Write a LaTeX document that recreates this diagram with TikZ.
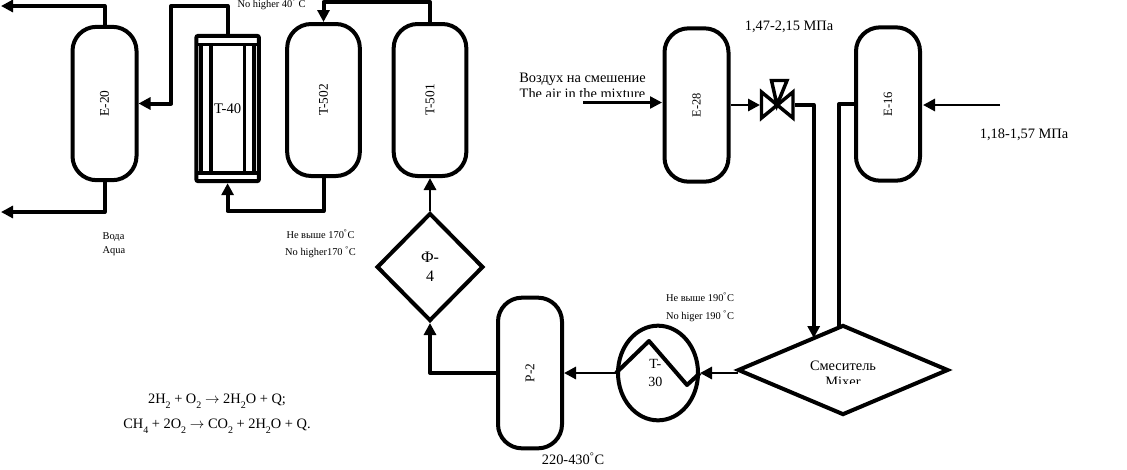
\documentclass[tikz,border=0pt]{standalone}
\usepackage{fontspec}
\usepackage{xcolor}
\usetikzlibrary{arrows.meta,shapes.geometric}
\setmainfont{Liberation Serif}
\newcommand{\degs}{\textsuperscript{°}}
\newcommand{\subs}[1]{\raisebox{-4pt}{\fontsize{7.5}{8}\selectfont #1}}

\tikzset{
  vessel/.style={draw,line width=3pt,rounded corners=18pt,minimum width=48pt,minimum height=115pt,inner sep=0pt,text depth=0pt,font=\fontsize{10}{11}\selectfont},
  bigtext/.style={inner sep=0pt,font=\fontsize{10.8}{12}\selectfont},
  smalltext/.style={inner sep=0pt,font=\fontsize{7.8}{9}\selectfont},
  pipe/.style={line width=3pt,line join=round},
  feed/.style={line width=2.2pt,line join=round},
  tip/.style={-{Triangle[length=9pt,width=9pt]}},
}

\begin{document}
\begin{tikzpicture}[x=0.75pt,y=0.75pt,yscale=-1,xscale=1]
\useasboundingbox (0,0) rectangle (1127,469);

%Shape: Vessels
\node[vessel] (E20) at (104.5,103.5) {\rotatebox{90}{E-20}};
\node[vessel,minimum width=54.5pt,minimum height=114pt] (T502) at (323.5,100) {\rotatebox{90}{T-502}};
\node[vessel,minimum width=54.5pt,minimum height=114pt] (T501) at (430,100) {\rotatebox{90}{T-501}};
\node[vessel,font=\fontsize{9.3}{11}\selectfont] (E28) at (696.5,105) {\rotatebox{90}{E-28}};
\node[vessel,font=\fontsize{9.5}{11}\selectfont] (E16) at (888,104) {\rotatebox{90}{E-16}};
\node[vessel,minimum height=113pt] (P2) at (530,373) {\rotatebox{90}{P-2}};

%Shape: Heat exchanger
\node[draw,line width=3pt,rounded corners=1.5pt,minimum width=47pt,minimum height=109pt,inner sep=0pt,font=\fontsize{11}{12}\selectfont] (T40) at (227.6,108.5) {T-40};
\draw [line width=2.6pt] (196.5,44.5) -- (258.5,44.5) ;
\draw [line width=3pt] (196.5,172.5) -- (258.5,172.5) ;
\draw [line width=3.2pt] (201.2,44.5) -- (201.2,172.5) ;
\draw [line width=2.6pt] (211,44.5) -- (211,172.5) ;
\draw [line width=2.6pt] (244.5,44.5) -- (244.5,172.5) ;
\draw [line width=2.6pt] (253.8,44.5) -- (253.8,172.5) ;

%Shape: Filter, cooler and mixer
\node[draw,diamond,line width=3pt,minimum width=80pt,minimum height=81pt,inner sep=0pt,align=center,font=\fontsize{12}{14.2}\selectfont] (F4) at (430,267) {Ф-\\4};
\node[draw,ellipse,line width=3pt,minimum width=60pt,minimum height=71pt,inner sep=0pt,align=center,font=\fontsize{10.5}{12.8}\selectfont] (T30) at (658,373) {\hspace{-4pt}T-\\\hspace{-4pt}30};
\node[draw,diamond,line width=3pt,minimum width=158pt,minimum height=67.5pt,inner sep=0pt] (Mixer) at (843,370) {};
\draw [pipe] (T30.west) -- (649,341) -- (687,385) -- (T30.east) ;

%Shape: Valve
\coordinate (valveC) at (777,105);
\coordinate (valveL) at (760,105);
\coordinate (valveR) at (795,105);
\draw [line width=2.6pt,line join=miter] (761.5,92) -- (761.5,118) -- (793,92) -- (793,118) -- cycle ;
\draw [line width=2.6pt,line join=miter] (771.5,80.5) -- (787,80.5) -- (valveC) -- cycle ;

%Straight Lines
\coordinate (outTop) at (1,6);
\coordinate (outBot) at (1,212);
\coordinate (bendT40) at (171,6);
\coordinate (topT502) at (323.5,2);
\coordinate (airIn) at (583,102.5);
\coordinate (airEnd) at (662,102.5);
\coordinate (feedE16) at (1000,105);
\coordinate (endE16) at (923,105);
\coordinate (inMixer) at (813.7,338);
\coordinate (outMixer) at (839,327);
\coordinate (leftMixer) at (738,373);
\draw [pipe,tip] (E20.north) |- (outTop) ;
\draw [pipe,tip] (E20.south) |- (outBot) ;
\draw [pipe,tip] (T40.north) |- (bendT40) |- (E20.east) ;
\draw [pipe,tip] (T502.south) -- ++(0,33) -| (T40.south) ;
\draw [pipe,tip] (T501.north) |- (topT502) -- (T502.north) ;
\draw [feed,tip] (F4.north) -- (T501.south) ;
\draw [pipe,tip] (P2.west) -| (F4.south) ;
\draw [feed,tip] (T30.west) -- (P2.east) ;
\draw [feed,tip] (leftMixer) -- (T30.east) ;
\draw [feed,tip,line width=1.8pt] (airIn) -- (airEnd) ;
\draw [feed,tip] (E28.east) -- (valveL) ;
\draw [pipe,tip] (valveR) -| (inMixer) ;
\draw [pipe] (E16.west) -| (outMixer) ;
\draw [feed,tip] (feedE16) -- (endE16) ;

% Text Node
\node[smalltext] (lblTop) at (271.5,4.5) {No higher 40\degs\ C};
\node[smalltext] (lblWaterRu) at (113.5,237.5) {Вода};
\node[smalltext] (lblWaterEn) at (114,251) {Aqua};
\node[smalltext] (lblT502Ru) at (320.5,234.5) {Не выше 170\degs C};
\node[smalltext] (lblT502En) at (320.5,252.5) {No higher170 \degs C};
\node[smalltext] (lblT30Ru) at (700,297.5) {Не выше 190\degs C};
\node[smalltext] (lblT30En) at (700,316) {No higer 190 \degs C};
\node[bigtext] (lblP2) at (573,459) {220-430\degs C};
\node[bigtext] (lblValve) at (789,27) {1,47-2,15 МПа};
\node[bigtext] (lblE16) at (1024,135) {1,18-1,57 МПа};
\node[bigtext] (lblAirRu) at (582.5,79) {Воздух на смешение};
\begin{scope}
\clip (510,85) rectangle (660,96.4);
\node[bigtext] (lblAirEn) at (582.5,94) {The air in the mixture};
\end{scope}
\node[bigtext] (lblMixerRu) at (843,366) {Смеситель};
\begin{scope}
\clip (810,375) rectangle (880,383.5);
\node[bigtext] (lblMixerEn) at (843,382) {Mixer};
\end{scope}
\node[bigtext] (lblEqA) at (217,401.5) {2H\subs{2} + O\subs{2} $\rightarrow$ 2H\subs{2}O + Q;};
\node[bigtext] (lblEqB) at (217,426.5) {CH\subs{4} + 2O\subs{2} $\rightarrow$ CO\subs{2} + 2H\subs{2}O + Q.};

\end{tikzpicture}
\end{document}
